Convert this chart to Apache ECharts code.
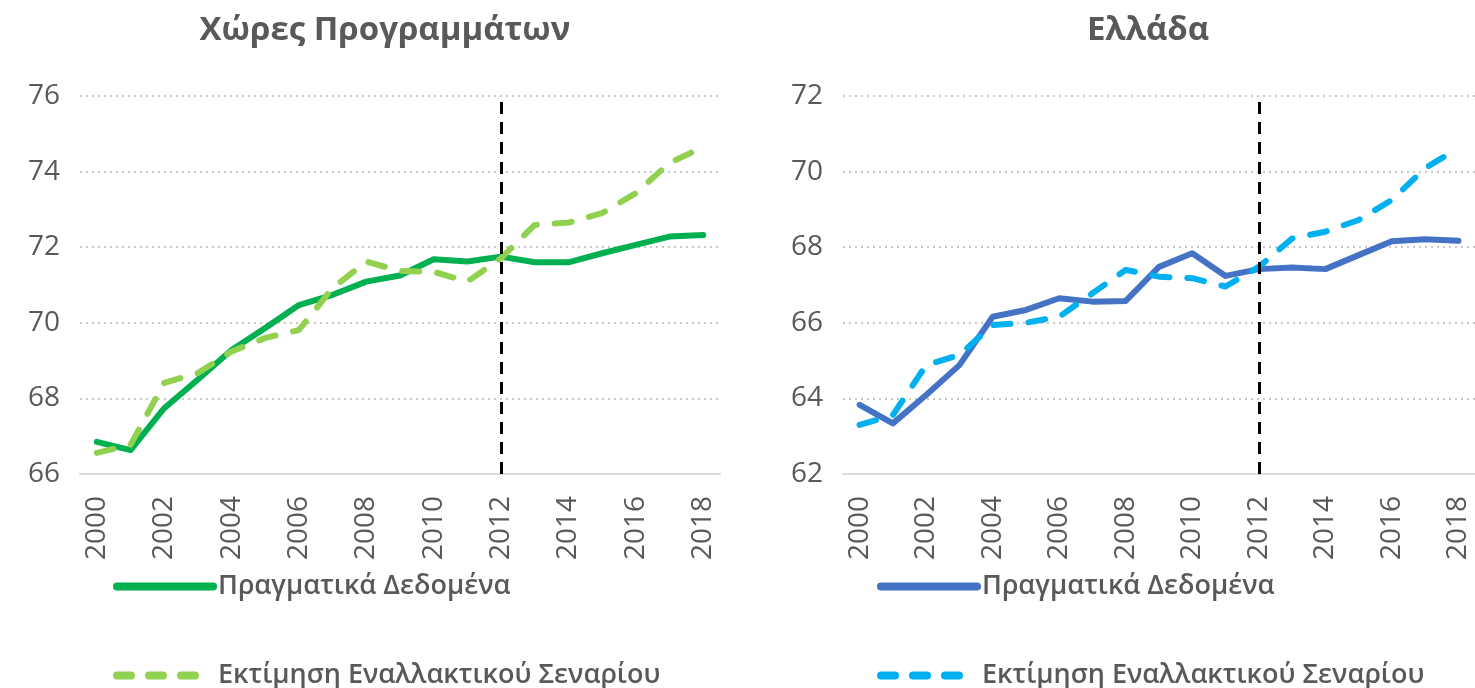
<!DOCTYPE html>
<html>
<head>
<meta charset="utf-8">
<script src="https://cdn.jsdelivr.net/npm/echarts@6/dist/echarts.min.js"></script>
<style>
  html, body { margin: 0; padding: 0; background: #fff; }
  #chart { width: 1475px; height: 688px; }
</style>
</head>
<body>
<div id="chart"></div>
<script>
const years = ['2000', '2001', '2002', '2003', '2004', '2005', '2006', '2007', '2008', '2009',
    '2010', '2011', '2012', '2013', '2014', '2015', '2016', '2017', '2018'];

// Χώρες Προγραμμάτων
const progActual = [66.85, 66.63, 67.74, 68.5, 69.28, 69.86, 70.47, 70.74, 71.09, 71.25,
    71.68, 71.62, 71.75, 71.6, 71.6, 71.84, 72.06, 72.28, 72.32];
const progAlt = [66.56, 66.77, 68.41, 68.67, 69.24, 69.6, 69.81, 70.92, 71.62, 71.37,
    71.35, 71.09, 71.71, 72.59, 72.65, 72.9, 73.43, 74.23, 74.65];

// Ελλάδα
const greeceActual = [63.83, 63.34, 64.09, 64.88, 66.16, 66.34, 66.65, 66.56, 66.58, 67.48,
    67.84, 67.24, 67.42, 67.46, 67.42, 67.79, 68.16, 68.21, 68.17];
const greeceAlt = [63.3, 63.56, 64.88, 65.15, 65.94, 66.0, 66.16, 66.78, 67.4, 67.22,
    67.18, 66.96, 67.48, 68.23, 68.41, 68.72, 69.25, 70.09, 70.62];

const titles = ['Χώρες Προγραμμάτων', 'Ελλάδα'];
const seriesLabels = {
    progActual: 'Πραγματικά Δεδομένα',
    progAlt: 'Εκτίμηση Εναλλακτικού Σεναρίου',
    greeceActual: 'Πραγματικά Δεδομένα',
    greeceAlt: 'Εκτίμηση Εναλλακτικού Σεναρίου',
};
const splitYear = '2012';

const FONT = 'Open Sans';
const TEXT_GREY = '#595959';

function makeXAxis(gridIndex) {
    return {
        type: 'category',
        gridIndex: gridIndex,
        data: years,
        boundaryGap: true,
        axisLine: {lineStyle: {color: '#d9d9d9', width: 2}},
        axisTick: {show: false},
        axisLabel: {
            interval: 1,
            rotate: 90,
            margin: 22,
            color: TEXT_GREY,
            fontSize: 28,
            fontFamily: FONT,
        },
    };
}

function makeYAxis(gridIndex, min, max) {
    return {
        type: 'value',
        gridIndex: gridIndex,
        min: min,
        max: max,
        interval: 2,
        axisLine: {show: false},
        axisTick: {show: false},
        splitLine: {lineStyle: {color: '#c8c8c8', type: [2, 4], width: 2}},
        axisLabel: {
            margin: 20,
            color: TEXT_GREY,
            fontSize: 28,
            fontFamily: FONT,
        },
    };
}

function makeLine(name, data, idx, color, dashed, withMark) {
    const s = {
        name: name,
        type: 'line',
        xAxisIndex: idx,
        yAxisIndex: idx,
        data: data,
        symbol: 'none',
        lineStyle: {
            color: color,
            width: 6,
            type: dashed ? [17, 18] : 'solid',
            cap: 'round',
            join: 'round',
        },
        itemStyle: {color: color},
        z: dashed ? 3 : 2,
    };
    if (withMark) {
        s.markLine = {
            silent: true,
            symbol: 'none',
            label: {show: false},
            lineStyle: {color: '#000', width: 3, type: [12, 8]},
            data: [{xAxis: splitYear}],
        };
    }
    return s;
}

// one legend per entry, so the vertical layout never wraps into a second column
function makeLegend(name, left, top, dashed) {
    return {
        orient: 'vertical',
        left: left,
        top: top,
        itemWidth: 96,
        itemHeight: 10,
        data: [
            {name: name, lineStyle: {width: 8, type: dashed ? [14, 18] : 'solid', cap: 'round'}},
        ],
        itemStyle: {opacity: 0},
        formatter: (n) => seriesLabels[n],
        textStyle: {
            color: TEXT_GREY,
            fontSize: 27,
            fontWeight: 600,
            fontFamily: FONT,
        },
        selectedMode: false,
    };
}

const option = {
    animation: false,
    backgroundColor: '#ffffff',
    title: [
        {
            text: titles[0],
            left: 380,
            top: 9,
            textAlign: 'center',
            textStyle: {color: TEXT_GREY, fontSize: 33, fontWeight: 'bold', fontFamily: FONT},
        },
        {
            text: titles[1],
            left: 1143,
            top: 9,
            textAlign: 'center',
            textStyle: {color: TEXT_GREY, fontSize: 33, fontWeight: 'bold', fontFamily: FONT},
        },
    ],
    legend: [
        makeLegend('progActual', 108, 568, false),
        makeLegend('progAlt', 108, 657, true),
        makeLegend('greeceActual', 872, 568, false),
        makeLegend('greeceAlt', 872, 657, true),
    ],
    grid: [
        {left: 80, top: 96, width: 640, height: 378},
        {left: 843, top: 96, width: 640, height: 378},
    ],
    xAxis: [makeXAxis(0), makeXAxis(1)],
    yAxis: [makeYAxis(0, 66, 76), makeYAxis(1, 62, 72)],
    series: [
        makeLine('progActual', progActual, 0, '#00b050', false, false),
        makeLine('progAlt', progAlt, 0, '#92d050', true, true),
        makeLine('greeceActual', greeceActual, 1, '#4472c4', false, false),
        makeLine('greeceAlt', greeceAlt, 1, '#00b0f0', true, true),
    ],
};

const chart = echarts.init(document.getElementById('chart'));
chart.setOption(option);
window.addEventListener('resize', () => chart.resize());
</script>
</body>
</html>
